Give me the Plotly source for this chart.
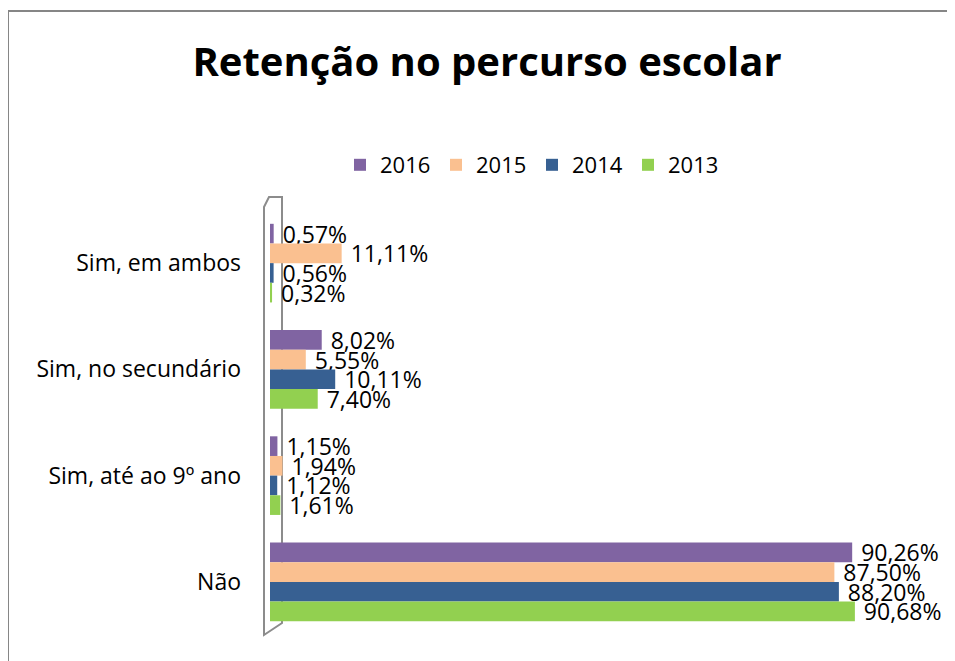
import plotly.graph_objects as go

categories = ["Sim, em ambos", "Sim, no secundário", "Sim, até ao 9º ano", "Não"]
series_names = ["2016", "2015", "2014", "2013"]
v2016 = [0.57, 8.02, 1.15, 90.26]
v2015 = [11.11, 5.55, 1.94, 87.50]
v2014 = [0.56, 10.11, 1.12, 88.20]
v2013 = [0.32, 7.40, 1.61, 90.68]
colors = ["#8064A2", "#FAC090", "#376092", "#92D050"]

FONT = "Open Sans, sans-serif"
FS = 23

fig = go.Figure()
for name, vals, col in zip(series_names, [v2016, v2015, v2014, v2013], colors):
    fig.add_trace(go.Bar(
        y=categories, x=vals, name=name, orientation="h",
        marker=dict(color=col, line=dict(width=0)),
        texttemplate="\u00a0%{x:.2f}%", textposition="outside", constraintext="none",
        textfont=dict(size=FS, color="black", family=FONT),
        cliponaxis=False,
    ))

# page body has an 8px default margin: work in page pixels and shift
OFF = 8
W, H = 955 - OFF, 661 - OFF
L, R, T, B = 270 - OFF, 40, 210 - OFF, 26
pw, ph = W - L - R, H - T - B

def px(x):
    return (x - OFF - L) / pw

def py(y):
    return (H - B - (y - OFF)) / ph

wall = "M {} {} L {} {} L {} {} L {} {} L {} {} Z".format(
    px(264), py(207), px(269), py(197), px(282), py(197), px(282), py(623), px(264), py(635))

fig.update_layout(
    width=W, height=H,
    margin=dict(l=L, r=R, t=T, b=B),
    paper_bgcolor="white", plot_bgcolor="white",
    separators=",.",
    font=dict(family=FONT, size=FS, color="black"),
    title=dict(text="<b>Retenção no percurso escolar</b>", x=(487 - OFF) / W, xref="container",
               xanchor="center", y=1 - (62 - OFF) / H, yref="container", yanchor="middle",
               font=dict(size=40, family=FONT, color="black")),
    barmode="group", bargap=0.26, bargroupgap=0,
    xaxis=dict(range=[0, 100], visible=False, showgrid=False, zeroline=False),
    yaxis=dict(autorange="reversed", showgrid=False, zeroline=False, showline=False,
               ticks="", ticklabelstandoff=28, tickfont=dict(size=FS, family=FONT, color="black")),
    legend=dict(orientation="h", x=px(340), xanchor="left", y=py(165), yanchor="middle",
                font=dict(size=22, family=FONT), entrywidth=51, entrywidthmode="pixels",
                itemwidth=30),
    showlegend=True,
    shapes=[
        dict(type="path", path=wall, xref="paper", yref="paper",
             line=dict(color="#8C8C8C", width=2), fillcolor="rgba(0,0,0,0)", layer="below"),
        dict(type="rect", xref="paper", yref="paper", x0=px(8), y0=py(675), x1=px(970), y1=py(11),
             line=dict(color="#868686", width=2), fillcolor="rgba(0,0,0,0)", layer="below"),
    ],
)

fig.write_html("out.html")
